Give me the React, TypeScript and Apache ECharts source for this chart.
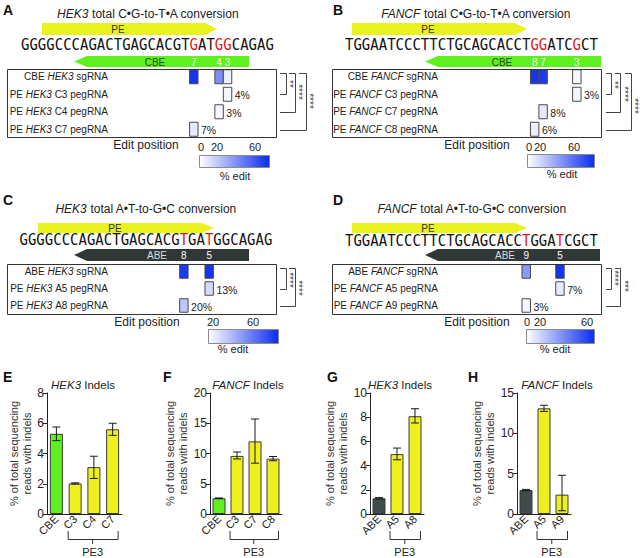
import React, { useEffect, useRef } from 'react';
import * as echarts from 'echarts';

const FONT = '"Liberation Sans", Arial, Helvetica, sans-serif';
const MONO = '"DejaVu Sans Mono", "Liberation Mono", monospace';

// ---------- data ----------
const seqHEK3 = 'GGGGCCCAGACTGAGCACGTGATGGCAGAG';
const seqFANCF = 'TGGAATCCCTTCTGCAGCACCTGGATCGCT';

// Panel A (HEK3, C•G-to-T•A)
const rowsA = ['CBE HEK3 sgRNA', 'PE HEK3 C3 pegRNA', 'PE HEK3 C4 pegRNA', 'PE HEK3 C7 pegRNA'];
const redColsA = [20, 23, 24];
const editPosA = ['7', '4', '3'];
const cellsA = [[20, 0, 72], [23, 0, 40], [24, 0, 6], [24, 1, 4], [23, 2, 3], [20, 3, 7]];

// Panel B (FANCF, C•G-to-T•A)
const rowsB = ['CBE FANCF sgRNA', 'PE FANCF C3 pegRNA', 'PE FANCF C7 pegRNA', 'PE FANCF C8 pegRNA'];
const redColsB = [22, 23, 27];
const editPosB = ['8', '7', '3'];
const cellsB = [[22, 0, 72], [23, 0, 70], [27, 0, 3], [27, 1, 3], [23, 2, 8], [22, 3, 6]];

// Panel C (HEK3, A•T-to-G•C)
const rowsC = ['ABE HEK3 sgRNA', 'PE HEK3 A5 pegRNA', 'PE HEK3 A8 pegRNA'];
const redColsC = [19, 22];
const editPosC = ['8', '5'];
const cellsC = [[19, 0, 70], [22, 0, 72], [22, 1, 13], [19, 2, 20]];

// Panel D (FANCF, A•T-to-G•C)
const rowsD = ['ABE FANCF sgRNA', 'PE FANCF A5 pegRNA', 'PE FANCF A9 pegRNA'];
const redColsD = [21, 25];
const editPosD = ['9', '5'];
const cellsD = [[21, 0, 36], [25, 0, 72], [25, 1, 7], [21, 2, 3]];

// Indel bar charts
const catsE = ['CBE', 'C3', 'C4', 'C7'];
const meanE = [5.3, 2.02, 3.1, 5.6];
const lowE = [4.85, 1.98, 2.35, 5.2];
const highE = [5.75, 2.06, 3.82, 6.0];

const catsF = ['CBE', 'C3', 'C7', 'C8'];
const meanF = [2.6, 9.6, 12.0, 9.15];
const lowF = [2.55, 9.1, 8.4, 8.8];
const highF = [2.65, 10.25, 15.7, 9.5];

const catsG = ['ABE', 'A5', 'A8'];
const meanG = [1.3, 4.95, 8.08];
const lowG = [1.25, 4.48, 7.52];
const highG = [1.35, 5.45, 8.7];

const catsH = ['ABE', 'A5', 'A9'];
const meanH = [2.97, 13.1, 2.4];
const lowH = [2.9, 12.72, 0.4];
const highH = [3.05, 13.48, 4.8];

// ---------- styles / layout ----------
const CW = 8.43; // width of one sequence position
const RED = '#e3161b';
const PE_COL = '#e9f21d';
const CBE_COL = '#5ef01f';
const ABE_COL = '#2f3737';
const YELLOW = '#eef01e';
const INK = '#222';

const heatPanels = [
  {
    letter: 'A', letterXY: [3, 3], gene: 'HEK3', conv: ' total C•G-to-T•A conversion', titleXY: [148, 14],
    seq: seqHEK3, red: redColsA, editPos: editPosA, rows: rowsA, cells: cellsA,
    seqX: 21, seqY: 45, gridTop: 68, gridH: 70, box: [7, 69, 269, 68], labelRight: 108,
    pe: { x0: 42, xb: 205, xt: 217, y0: 23, y1: 35, tx: 118 },
    guide: { tip: 74, xb: 87, x1: 249, y0: 56, y1: 67, name: 'CBE', nx: 155, col: CBE_COL, tcol: '#244a16', ncol: '#f4ffe8' },
    editXY: [146, 145], cbar: [199, 155, 70, 12], cbarLabels: [['0', 201], ['20', 217], ['60', 255]], cbarLabelY: 147, pctXY: [235, 176],
    bx: 280,
    brackets: [
      { y0: 73, y1: 94, vx: 286, t0: 280, lab: '**', lx: 289, ly: 84 },
      { y0: 73, y1: 112, vx: 295, t0: 289, lab: '****', lx: 298, ly: 92 },
      { y0: 73, y1: 130, vx: 306, t0: 299, lab: '****', lx: 309, ly: 101 },
    ],
  },
  {
    letter: 'B', letterXY: [333, 3], gene: 'FANCF', conv: ' total C•G-to-T•A conversion', titleXY: [476, 14],
    seq: seqFANCF, red: redColsB, editPos: editPosB, rows: rowsB, cells: cellsB,
    seqX: 345, seqY: 45, gridTop: 68, gridH: 70, box: [332, 69, 269, 68], labelRight: 438,
    pe: { x0: 352, xb: 515, xt: 527, y0: 23, y1: 35, tx: 428 },
    guide: { tip: 425, xb: 438, x1: 601, y0: 56, y1: 67, name: 'CBE', nx: 502, col: CBE_COL, tcol: '#244a16', ncol: '#f4ffe8' },
    editXY: [477, 145], cbar: [527, 154, 67, 13], cbarLabels: [['0', 529], ['20', 540], ['60', 574]], cbarLabelY: 147, pctXY: [562, 174],
    bx: 606,
    brackets: [
      { y0: 73, y1: 94, vx: 611, t0: 606, lab: '**', lx: 614, ly: 85 },
      { y0: 73, y1: 112, vx: 620, t0: 615, lab: '****', lx: 624, ly: 94 },
      { y0: 73, y1: 130, vx: 631, t0: 625, lab: '****', lx: 634, ly: 106 },
    ],
  },
  {
    letter: 'C', letterXY: [3, 193], gene: 'HEK3', conv: ' total A•T-to-G•C conversion', titleXY: [146, 209],
    seq: seqHEK3, red: redColsC, editPos: editPosC, rows: rowsC, cells: cellsC,
    seqX: 19.5, seqY: 240, gridTop: 263, gridH: 51, box: [7, 264, 269, 50], labelRight: 108,
    pe: { x0: 38, xb: 202, xt: 214, y0: 223, y1: 233, tx: 115 },
    guide: { tip: 74, xb: 87, x1: 249, y0: 249, y1: 261, name: 'ABE', nx: 157, col: ABE_COL, tcol: '#d9dddd', ncol: '#ffffff' },
    editXY: [147, 322], cbar: [208, 329, 70, 14], cbarLabels: [['20', 213], ['60', 253]], cbarLabelY: 322, pctXY: [233, 349],
    bx: 280,
    brackets: [
      { y0: 268, y1: 289, vx: 286, t0: 280, lab: '****', lx: 289, ly: 280 },
      { y0: 268, y1: 306, vx: 295, t0: 289, lab: '****', lx: 298, ly: 288 },
    ],
  },
  {
    letter: 'D', letterXY: [333, 193], gene: 'FANCF', conv: ' total A•T-to-G•C conversion', titleXY: [472, 209],
    seq: seqFANCF, red: redColsD, editPos: editPosD, rows: rowsD, cells: cellsD,
    seqX: 345, seqY: 241, gridTop: 263, gridH: 51, box: [332, 264, 269, 50], labelRight: 438,
    pe: { x0: 352, xb: 515, xt: 527, y0: 223, y1: 233, tx: 428 },
    guide: { tip: 425, xb: 438, x1: 600, y0: 249, y1: 261, name: 'ABE', nx: 505, col: ABE_COL, tcol: '#d9dddd', ncol: '#ffffff' },
    editXY: [477, 322], cbar: [526, 329, 68, 14], cbarLabels: [['0', 527], ['20', 540], ['60', 587]], cbarLabelY: 322, pctXY: [555, 349],
    bx: 606,
    brackets: [
      { y0: 268, y1: 289, vx: 611, t0: 606, lab: '****', lx: 614, ly: 278 },
      { y0: 268, y1: 306, vx: 620, t0: 615, lab: '***', lx: 624, ly: 286 },
    ],
  },
];

const barPanels = [
  { letter: 'E', letterXY: [3, 370], gene: 'HEK3', titleX: 83, cats: catsE, mean: meanE, low: lowE, high: highE, ctrl: CBE_COL, left: 47, width: 75, max: 8, interval: 2, nameGap: 13 },
  { letter: 'F', letterXY: [163, 370], gene: 'FANCF', titleX: 248, cats: catsF, mean: meanF, low: lowF, high: highF, ctrl: CBE_COL, left: 210, width: 72, max: 20, interval: 5, nameGap: 18 },
  { letter: 'G', letterXY: [327, 370], gene: 'HEK3', titleX: 400, cats: catsG, mean: meanG, low: lowG, high: highG, ctrl: '#414b4b', left: 370, width: 54, max: 10, interval: 2, nameGap: 17 },
  { letter: 'H', letterXY: [468, 370], gene: 'FANCF', titleX: 557, cats: catsH, mean: meanH, low: lowH, high: highH, ctrl: '#414b4b', left: 517, width: 54, max: 15, interval: 5, nameGap: 19 },
];
const BAR_TOP = 393;
const BAR_H = 121;

// ---------- renderers ----------
const heatRender = (params: any, api: any) => {
  const col = api.value(0);
  const row = api.value(1);
  const v = api.value(2);
  const p = api.coord([col, row]);
  const size = api.size([1, 1]);
  const w = size[0];
  const h = Math.min(size[1] - 3.5, 14);
  const children: any[] = [
    {
      type: 'rect',
      shape: { x: p[0] - w / 2, y: p[1] - h / 2, width: w, height: h },
      style: { fill: api.visual('color'), stroke: '#4a4a4a', lineWidth: 1 },
    },
  ];
  if (row > 0) {
    children.push({
      type: 'text',
      style: {
        text: v + '%', x: p[0] + w / 2 + 3, y: p[1] + 1, align: 'left', verticalAlign: 'middle',
        fontSize: 10.5, fontFamily: FONT, fill: INK,
      },
    });
  }
  return { type: 'group', children };
};

const errRender = (params: any, api: any) => {
  const i = api.value(0);
  const lo = api.coord([i, api.value(1)]);
  const hi = api.coord([i, api.value(2)]);
  const cap = 4;
  const st = { stroke: '#1a1a1a', lineWidth: 1 };
  return {
    type: 'group',
    children: [
      { type: 'line', shape: { x1: lo[0], y1: lo[1], x2: hi[0], y2: hi[1] }, style: st },
      { type: 'line', shape: { x1: lo[0] - cap, y1: lo[1], x2: lo[0] + cap, y2: lo[1] }, style: st },
      { type: 'line', shape: { x1: hi[0] - cap, y1: hi[1], x2: hi[0] + cap, y2: hi[1] }, style: st },
    ],
  };
};

function txt(text: string, x: number, y: number, o: any = {}) {
  return {
    type: 'text', x, y, rotation: o.rotation || 0, silent: true,
    style: {
      text, x: 0, y: 0, fontFamily: FONT, fontSize: o.size || 11, fontWeight: o.weight || 'normal',
      fill: o.fill || INK, align: o.align || 'center', verticalAlign: o.va || 'middle',
    },
  };
}

function buildOption() {
  const grid: any[] = [];
  const xAxis: any[] = [];
  const yAxis: any[] = [];
  const series: any[] = [];
  const graphic: any[] = [];

  heatPanels.forEach((P, k) => {
    grid.push({ left: P.seqX, top: P.gridTop, width: CW * P.seq.length, height: P.gridH });
    xAxis.push({ gridIndex: k, type: 'category', data: P.seq.split('').map((_, i) => String(i + 1)), show: false });
    yAxis.push({
      gridIndex: k, type: 'category', data: P.rows, inverse: true,
      offset: -(P.labelRight - P.seqX),
      axisLine: { show: false }, axisTick: { show: false }, splitLine: { show: false },
      axisLabel: {
        margin: 0, fontSize: 10, color: INK, fontFamily: FONT, interval: 0,
        formatter: (v: string) => v.replace(/(HEK3|FANCF)/, '{i|$1}'),
        rich: { i: { fontStyle: 'italic', fontSize: 10, fontFamily: FONT, color: INK } },
      },
    });
    series.push({
      type: 'custom', xAxisIndex: k, yAxisIndex: k, renderItem: heatRender,
      data: P.cells, encode: { x: 0, y: 1 }, z: 5,
    });

    // panel letter & title
    graphic.push(txt(P.letter, P.letterXY[0], P.letterXY[1], { size: 14, weight: 'bold', align: 'left', va: 'top', fill: '#111' }));
    graphic.push({
      type: 'text', x: P.titleXY[0], y: P.titleXY[1], silent: true,
      style: {
        text: `{i|${P.gene}}{n|${P.conv}}`, x: 0, y: 0, align: 'center', verticalAlign: 'middle',
        rich: {
          i: { fontFamily: FONT, fontSize: 12, fontStyle: 'italic', fill: INK },
          n: { fontFamily: FONT, fontSize: 12, fill: INK },
        },
      },
    });
    // PE arrow
    const pe = P.pe;
    graphic.push({
      type: 'polygon', silent: true,
      shape: { points: [[pe.x0, pe.y0], [pe.xb, pe.y0], [pe.xt, (pe.y0 + pe.y1) / 2], [pe.xb, pe.y1], [pe.x0, pe.y1]] },
      style: { fill: PE_COL },
    });
    graphic.push(txt('PE', pe.tx, (pe.y0 + pe.y1) / 2 + 0.5, { size: 10, fill: '#333' }));
    // guide arrow (CBE / ABE)
    const g = P.guide;
    graphic.push({
      type: 'polygon', silent: true,
      shape: { points: [[g.tip, (g.y0 + g.y1) / 2], [g.xb, g.y0], [g.x1, g.y0], [g.x1, g.y1], [g.xb, g.y1]] },
      style: { fill: g.col },
    });
    graphic.push(txt(g.name, g.nx, (g.y0 + g.y1) / 2 + 0.5, { size: 10, fill: g.tcol }));
    P.red.forEach((c, i) => {
      graphic.push(txt(P.editPos[i], P.seqX + (c + 0.5) * CW, (g.y0 + g.y1) / 2 + 0.5, { size: 10, fill: g.ncol }));
    });
    // sequence
    const rich = P.seq.split('').map((c, i) => (P.red.includes(i) ? `{r|${c}}` : `{n|${c}}`)).join('');
    const fs = 16;
    graphic.push({
      type: 'text', x: P.seqX, y: P.seqY, scaleX: CW / (0.60205 * fs), silent: true,
      style: {
        text: rich, x: 0, y: 0, align: 'left', verticalAlign: 'middle',
        rich: {
          n: { fontFamily: MONO, fontSize: fs, fill: '#111' },
          r: { fontFamily: MONO, fontSize: fs, fill: RED },
        },
      },
    });
    // box
    graphic.push({
      type: 'rect', silent: true, z: 10,
      shape: { x: P.box[0] + 0.5, y: P.box[1] + 0.5, width: P.box[2], height: P.box[3] },
      style: { fill: 'none', stroke: '#333', lineWidth: 1 },
    });
    // brackets
    P.brackets.forEach((b) => {
      graphic.push({
        type: 'polyline', silent: true,
        shape: { points: [[b.t0, b.y0 + 0.5], [b.vx + 0.5, b.y0 + 0.5], [b.vx + 0.5, b.y1 + 0.5], [P.bx, b.y1 + 0.5]] },
        style: { stroke: '#444', lineWidth: 1, fill: 'none' },
      });
      graphic.push(txt(b.lab, b.lx, b.ly, { size: 10, rotation: -Math.PI / 2, fill: '#444' }));
    });
    // edit position + colour bar
    graphic.push(txt('Edit position', P.editXY[0], P.editXY[1], { size: 12 }));
    const cb = P.cbar;
    graphic.push({
      type: 'rect', silent: true,
      shape: { x: cb[0] + 0.5, y: cb[1] + 0.5, width: cb[2], height: cb[3] },
      style: {
        stroke: '#8a8a8a', lineWidth: 1,
        fill: {
          type: 'linear', x: 0, y: 0, x2: 1, y2: 0,
          colorStops: [{ offset: 0, color: '#ffffff' }, { offset: 1, color: '#0b2cf0' }],
        },
      },
    });
    P.cbarLabels.forEach(([t, x]) => graphic.push(txt(t as string, x as number, P.cbarLabelY, { size: 11 })));
    graphic.push(txt('% edit', P.pctXY[0], P.pctXY[1], { size: 11 }));
  });

  barPanels.forEach((B, j) => {
    const gi = 4 + j;
    grid.push({ left: B.left, top: BAR_TOP, width: B.width, height: BAR_H });
    xAxis.push({
      gridIndex: gi, type: 'category', data: B.cats,
      axisLine: { lineStyle: { color: '#222', width: 1 } }, axisTick: { show: false },
      axisLabel: { rotate: 45, fontSize: 11, color: INK, fontFamily: FONT, margin: 3, interval: 0 },
    });
    yAxis.push({
      gridIndex: gi, type: 'value', min: 0, max: B.max, interval: B.interval,
      name: '% of total sequencing\nreads with indels', nameLocation: 'middle', nameRotate: 90, nameGap: B.nameGap,
      nameTextStyle: { fontSize: 11, fontFamily: FONT, color: '#333', lineHeight: 13 },
      axisLine: { show: true, lineStyle: { color: '#222', width: 1 } },
      axisTick: { show: true, length: 4, lineStyle: { color: '#222' } },
      splitLine: { show: false },
      axisLabel: { fontSize: 12, color: INK, fontFamily: FONT, margin: 3 },
    });
    series.push({
      type: 'bar', xAxisIndex: gi, yAxisIndex: gi, barWidth: 13,
      itemStyle: { borderColor: '#3a3a3a', borderWidth: 1 },
      data: B.mean.map((v, i) => ({ value: v, itemStyle: { color: i === 0 ? B.ctrl : YELLOW } })),
    });
    series.push({
      type: 'custom', xAxisIndex: gi, yAxisIndex: gi, renderItem: errRender, z: 4,
      data: B.mean.map((_, i) => [i, B.low[i], B.high[i]]),
      encode: { x: 0, y: [1, 2] },
    });

    graphic.push(txt(B.letter, B.letterXY[0], B.letterXY[1], { size: 14, weight: 'bold', align: 'left', va: 'top', fill: '#111' }));
    graphic.push({
      type: 'text', x: B.titleX, y: 385, silent: true,
      style: {
        text: `{i|${B.gene}}{n| Indels}`, x: 0, y: 0, align: 'center', verticalAlign: 'middle',
        rich: {
          i: { fontFamily: FONT, fontSize: 11.5, fontStyle: 'italic', fill: INK },
          n: { fontFamily: FONT, fontSize: 11.5, fill: INK },
        },
      },
    });
    // PE3 bracket
    const band = B.width / B.cats.length;
    const xa = B.left + 1.5 * band - 7.5;
    const xb = B.left + (B.cats.length - 0.5) * band + 5;
    const xm = (xa + xb) / 2;
    graphic.push({
      type: 'polyline', silent: true,
      shape: { points: [[xa + 0.5, 531], [xa + 0.5, 539.5], [xb + 0.5, 539.5], [xb + 0.5, 531]] },
      style: { stroke: '#333', lineWidth: 1, fill: 'none' },
    });
    graphic.push({
      type: 'line', silent: true,
      shape: { x1: xm, y1: 539.5, x2: xm, y2: 544 },
      style: { stroke: '#333', lineWidth: 1 },
    });
    graphic.push(txt('PE3', xm, 552, { size: 11 }));
  });

  return {
    animation: false,
    backgroundColor: '#ffffff',
    textStyle: { fontFamily: FONT },
    grid, xAxis, yAxis, series, graphic,
    visualMap: [{
      type: 'continuous', show: false, seriesIndex: [0, 1, 2, 3], dimension: 2, min: 0, max: 75,
      inRange: { color: ['#ffffff', '#0b2cf0'] },
    }],
  };
}

export default function App() {
  const ref = useRef<HTMLDivElement>(null);
  useEffect(() => {
    document.body.style.margin = '0';
    const chart = echarts.init(ref.current as HTMLDivElement, null, { renderer: 'svg' });
    chart.setOption(buildOption() as any);
    return () => chart.dispose();
  }, []);
  return <div ref={ref} style={{ position: 'absolute', left: 0, top: 0, width: 640, height: 558, background: '#fff' }} />;
}
